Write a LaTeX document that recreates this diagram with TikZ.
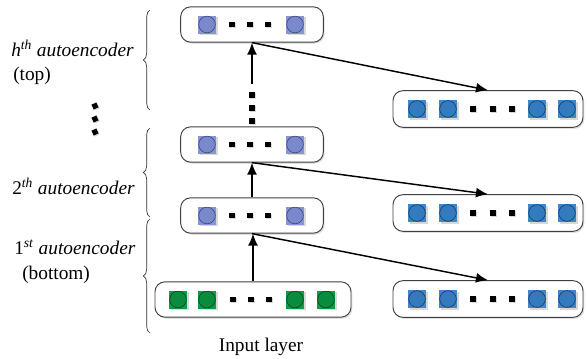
\documentclass[tikz,border=0pt]{standalone}
\usepackage{fontspec}
\setmainfont{Liberation Serif}
\usetikzlibrary{arrows.meta,shadows,decorations.pathreplacing}

\definecolor{hidsq}{RGB}{135,147,214}
\definecolor{hidci}{RGB}{122,136,206}
\definecolor{outsq}{RGB}{64,134,202}
\definecolor{outci}{RGB}{52,122,190}
\definecolor{insq}{RGB}{12,156,70}
\definecolor{inci}{RGB}{10,140,62}

\tikzset{
  layer/.style={draw=black!75, line width=0.7pt, rounded corners=7.5pt, fill=white,
    minimum height=26.5pt, drop shadow={shadow xshift=1pt, shadow yshift=-1.2pt, opacity=0.25}},
  unitsq/.style={draw=none, minimum size=13.5pt, inner sep=0pt,
    drop shadow={shadow xshift=1.2pt, shadow yshift=-1.2pt, opacity=0.3}},
  unitci/.style={circle, line width=0.4pt, minimum size=12.5pt, inner sep=0pt},
  dotsq/.style={fill=black, minimum size=4pt, inner sep=0pt,
    drop shadow={shadow xshift=0.8pt, shadow yshift=-0.8pt, opacity=0.3}},
  arr/.style={line width=1.1pt, -{Latex[length=9pt,width=7.5pt]}},
  lbl/.style={anchor=west, inner sep=0pt, font=\fontsize{14.5}{17}\selectfont},
  brc/.style={decorate, decoration={brace, amplitude=5pt}, line width=0.5pt, black!80}
}

\begin{document}
\begin{tikzpicture}[x=0.75pt,y=0.75pt,yscale=-1,xscale=1]
\useasboundingbox (0,0) rectangle (587,358);

% hidden layers
\foreach \ly/\nm in {24.5/top,144.5/mid,215.5/low} {
  \node[layer, minimum width=107pt] (\nm) at (252,\ly) {};
  \foreach \ux/\k in {207/a,295/b} {
    \node[unitsq, fill=hidsq] (\nm\k) at (\ux,\ly) {};
    \node[unitci, fill=hidci, draw=hidci!45!black] (\nm\k c) at (\ux,\ly) {};
  }
  \foreach \dx/\k in {232/1,250/2,268/3}
    \node[dotsq] (\nm d\k) at (\dx,\ly) {};
}

% output layers
\foreach \ly/\nm in {109/otop,213/omid,299/obot} {
  \node[layer, minimum width=142.5pt, minimum height=27.5pt] (\nm) at (488,\ly) {};
  \foreach \ux/\k in {417/a,448/b,537/c,567/d} {
    \node[unitsq, fill=outsq] (\nm\k) at (\ux,\ly) {};
    \node[unitci, fill=outci, draw=outci!40!black] (\nm\k c) at (\ux,\ly) {};
  }
  \foreach \dx/\k in {473/1,493/2,512/3}
    \node[dotsq] (\nm d\k) at (\dx,\ly) {};
}

% input layer
\node[layer, minimum width=147pt] (in) at (253,299.5) {};
\foreach \ux/\k in {178/a,207/b,295/c,326/d} {
  \node[unitsq, fill=insq] (in\k) at (\ux,299.5) {};
  \node[unitci, fill=inci, draw=inci!40!black] (in\k c) at (\ux,299.5) {};
}
\foreach \dx/\k in {233/1,251/2,269/3}
  \node[dotsq] (ind\k) at (\dx,299.5) {};

% dots between 2nd and top layer
\foreach \vy/\k in {95/1,108/2,121/3}
  \node[dotsq] (vd\k) at (252,\vy) {};
\coordinate (gap) at (252,84);

% dots on the left
\foreach \vy/\k in {106/1,119/2,132/3}
  \node[dotsq, rotate=25] (ld\k) at (95,\vy) {};

% connectors
\draw[arr] (in.north) -- (in.north |- low.south);
\draw[arr] (low.north) -- (mid.south);
\draw[arr] (gap) -- (top.south);
\draw[arr] (top.south) -- (otop.north);
\draw[arr] (mid.south) -- (omid.north);
\draw[arr] (low.south) -- (obot.north);

% braces
\draw[brc] (150,110) -- (150,10);
\draw[brc] (150,217) -- (150,128);
\draw[brc] (150,333) -- (150,219);

% labels
\node[lbl] (lh) at (11,48) {\textit{h\textsuperscript{th} autoencoder}};
\node[lbl] (lt) at (13,76) {(top)};
\node[lbl] (l2) at (12,186) {2\textsuperscript{\textit{th}} \textit{autoencoder}};
\node[lbl] (l1) at (14,247) {1\textsuperscript{\textit{st}} \textit{autoencoder}};
\node[lbl] (lb) at (22,275) {(bottom)};
\node[lbl, anchor=center] (il) at (261,347) {Input layer};

\end{tikzpicture}
\end{document}
